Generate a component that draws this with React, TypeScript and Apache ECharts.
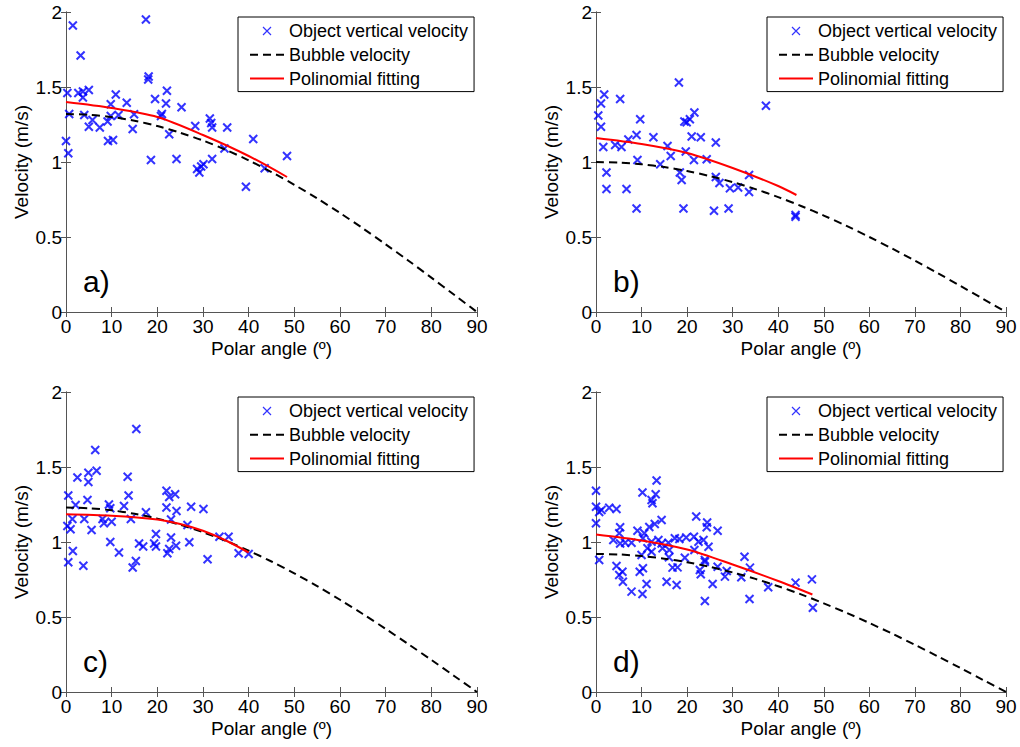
import React, { useEffect, useRef } from "react";
import * as echarts from "echarts";

const FONT = "'Liberation Sans', Arial, Helvetica, sans-serif";

const SERIES_NAMES = ["Object vertical velocity", "Bubble velocity", "Polinomial fitting"];
const PANEL_LABELS = ["a)", "b)", "c)", "d)"];
const X_NAME = "Polar angle (º)";
const Y_NAME = "Velocity (m/s)";

// Bubble velocity curve, read every 5 degrees
const bubbleAngles = [0, 5, 10, 15, 20, 25, 30, 35, 40, 45, 50, 55, 60, 65, 70, 75, 80, 85, 90];
const bubbleA = [1.32, 1.315, 1.3, 1.275, 1.24, 1.195, 1.143, 1.081, 1.011, 0.933, 0.848, 0.757, 0.66, 0.558, 0.451, 0.342, 0.229, 0.115, 0];
const bubbleB = [1.0, 0.996, 0.985, 0.966, 0.94, 0.906, 0.866, 0.819, 0.766, 0.707, 0.643, 0.574, 0.5, 0.423, 0.342, 0.259, 0.174, 0.087, 0];
const bubbleC = [1.23, 1.225, 1.211, 1.188, 1.156, 1.115, 1.065, 1.008, 0.942, 0.87, 0.791, 0.706, 0.615, 0.52, 0.421, 0.318, 0.214, 0.107, 0];
const bubbleD = [0.92, 0.917, 0.906, 0.889, 0.865, 0.834, 0.797, 0.754, 0.705, 0.651, 0.591, 0.528, 0.46, 0.389, 0.315, 0.238, 0.16, 0.08, 0];

// Polynomial fitting curves
const fitAnglesA = [0, 10, 20, 30, 40, 48.4];
const fitA = [1.4, 1.36, 1.3, 1.18, 1.04, 0.9];
const fitAnglesB = [0, 10, 20, 30, 40, 44];
const fitB = [1.16, 1.12, 1.06, 0.96, 0.84, 0.78];
const fitAnglesC = [0, 10, 20, 25, 30, 35, 40];
const fitC = [1.185, 1.175, 1.15, 1.12, 1.075, 1.01, 0.93];
const fitAnglesD = [0, 10, 20, 30, 40, 47.5];
const fitD = [1.05, 1.01, 0.95, 0.85, 0.74, 0.65];

// Object vertical velocity measurements [angle, velocity]
const objectA = [
  [1.5, 1.91], [17.5, 1.95], [3.2, 1.71], [18.1, 1.57], [18.0, 1.55], [0.3, 1.46], [2.7, 1.46], [3.7, 1.47],
  [5.0, 1.48], [3.7, 1.43], [10.9, 1.45], [22.1, 1.475], [19.5, 1.42], [21.9, 1.39], [13.3, 1.395], [9.8, 1.385],
  [25.3, 1.365], [0.7, 1.32], [4.0, 1.313], [9.8, 1.307], [11.5, 1.313], [14.9, 1.318], [21.0, 1.32], [20.8, 1.307],
  [5.8, 1.28], [9.1, 1.27], [5.0, 1.235], [7.4, 1.23], [14.6, 1.22], [28.3, 1.24], [31.5, 1.29], [31.8, 1.26],
  [32.0, 1.23], [35.3, 1.23], [22.6, 1.185], [41.0, 1.153], [34.7, 1.09], [0.0, 1.14], [0.5, 1.058], [9.2, 1.14],
  [10.3, 1.147], [18.6, 1.013], [24.2, 1.02], [32.0, 1.02], [28.7, 0.953], [29.6, 0.97], [30.1, 0.985], [29.2, 0.93],
  [43.5, 0.958], [48.4, 1.04], [39.4, 0.835],
];
const objectB = [
  [18.2, 1.53], [1.8, 1.45], [1.1, 1.39], [5.3, 1.42], [0.5, 1.31], [1.1, 1.235], [9.7, 1.285], [37.3, 1.375],
  [21.6, 1.33], [20.6, 1.285], [19.4, 1.27], [19.9, 1.265], [21.0, 1.17], [23.0, 1.165], [12.6, 1.165], [8.9, 1.18],
  [7.1, 1.15], [26.3, 1.13], [1.6, 1.1], [4.2, 1.113], [5.6, 1.1], [15.7, 1.107], [16.4, 1.04], [19.7, 1.07],
  [21.5, 1.013], [24.3, 1.018], [9.1, 1.013], [14.1, 0.985], [18.4, 0.93], [18.8, 0.88], [2.3, 0.93], [2.3, 0.82],
  [6.7, 0.82], [26.3, 0.9], [27.1, 0.86], [29.4, 0.825], [31.2, 0.83], [33.6, 0.913], [33.6, 0.8], [8.9, 0.69],
  [19.2, 0.69], [25.9, 0.675], [29.1, 0.69], [43.8, 0.647], [43.8, 0.635],
];
const objectC = [
  [15.4, 1.753], [6.4, 1.613], [6.7, 1.475], [4.9, 1.462], [4.9, 1.4], [2.5, 1.43], [13.5, 1.435], [0.5, 1.31],
  [4.7, 1.28], [13.7, 1.31], [22.0, 1.342], [22.6, 1.3], [23.9, 1.318], [22.0, 1.23], [27.4, 1.235], [30.1, 1.22],
  [24.2, 1.207], [2.1, 1.247], [9.4, 1.25], [9.7, 1.225], [12.7, 1.24], [17.5, 1.198], [1.4, 1.153], [4.0, 1.153],
  [8.0, 1.153], [8.3, 1.125], [10.0, 1.135], [14.2, 1.153], [23.0, 1.15], [0.3, 1.107], [1.0, 1.085], [5.6, 1.08],
  [19.7, 1.053], [23.0, 1.03], [26.6, 1.113], [33.6, 1.035], [35.6, 1.035], [9.7, 1.0], [16.0, 0.99], [16.9, 0.97],
  [19.7, 0.97], [19.3, 0.99], [27.0, 0.998], [24.1, 0.975], [22.6, 0.953], [22.2, 0.925], [1.5, 0.94], [11.6, 0.93],
  [0.5, 0.865], [3.8, 0.842], [15.3, 0.873], [14.6, 0.83], [31.0, 0.885], [37.8, 0.925], [40.0, 0.92],
];
const objectD = [
  [13.3, 1.41], [0.0, 1.342], [10.2, 1.33], [13.1, 1.318], [12.2, 1.28], [12.4, 1.258], [0.0, 1.235], [1.2, 1.213],
  [0.7, 1.2], [2.9, 1.228], [4.5, 1.22], [0.0, 1.125], [22.0, 1.17], [14.4, 1.147], [24.4, 1.13], [24.3, 1.098],
  [26.7, 1.075], [5.3, 1.098], [9.1, 1.075], [11.7, 1.1], [10.6, 1.058], [5.1, 1.058], [12.9, 1.12], [3.8, 1.013],
  [5.3, 0.99], [6.4, 0.995], [7.8, 0.995], [10.3, 1.025], [12.2, 1.002], [13.7, 1.013], [14.4, 0.99], [15.9, 0.995],
  [17.3, 1.025], [18.3, 1.02], [19.8, 1.03], [21.5, 1.035], [22.5, 1.002], [23.6, 1.013], [24.7, 0.968], [11.3, 0.958],
  [12.2, 0.935], [14.6, 0.958], [16.1, 0.947], [10.0, 0.913], [16.0, 0.898], [0.7, 0.88], [21.6, 0.947], [19.5, 0.895],
  [23.9, 0.868], [23.9, 0.88], [32.6, 0.902], [33.8, 0.829], [4.5, 0.84], [5.1, 0.78], [5.8, 0.802], [5.9, 0.735],
  [10.3, 0.825], [9.6, 0.802], [16.8, 0.829], [17.9, 0.831], [23.0, 0.785], [22.8, 0.813], [26.7, 0.835], [28.3, 0.769],
  [28.7, 0.807], [31.9, 0.765], [15.5, 0.735], [17.7, 0.713], [25.6, 0.72], [11.1, 0.72], [7.8, 0.669], [10.2, 0.653],
  [37.8, 0.698], [43.8, 0.729], [47.4, 0.751], [33.7, 0.62], [23.9, 0.607], [47.6, 0.562],
];

const panels = [
  { objects: objectA, bubble: bubbleA, fitX: fitAnglesA, fitY: fitA },
  { objects: objectB, bubble: bubbleB, fitX: fitAnglesB, fitY: fitB },
  { objects: objectC, bubble: bubbleC, fitX: fitAnglesC, fitY: fitC },
  { objects: objectD, bubble: bubbleD, fitX: fitAnglesD, fitY: fitD },
];

const GRIDS = [
  { left: 66, top: 12, width: 411, height: 300 },
  { left: 596, top: 12, width: 410, height: 300 },
  { left: 66, top: 392, width: 411, height: 300 },
  { left: 596, top: 392, width: 410, height: 300 },
];

const AXIS_COLOR = "#555";
const X_MARK = "path://M0,0L10,10M10,0L0,10";

export default function App() {
  const ref = useRef<HTMLDivElement>(null);
  useEffect(() => {
    if (!ref.current) return;
    const chart = echarts.init(ref.current, undefined, { renderer: "svg" });
    const xAxis: any[] = [];
    const yAxis: any[] = [];
    const series: any[] = [];
    const legend: any[] = [];
    const graphic: any[] = [];
    const axisLine = { show: true, lineStyle: { color: AXIS_COLOR, width: 1 } };
    const axisTick = { show: true, inside: true, length: 5, lineStyle: { color: AXIS_COLOR } };
    GRIDS.forEach((g, i) => {
      xAxis.push({
        type: "value", gridIndex: i, position: "bottom", min: 0, max: 90, interval: 10,
        axisLine, axisTick, splitLine: { show: false },
        axisLabel: { color: "#000", fontSize: 19, fontFamily: FONT, margin: 5 },
        name: X_NAME, nameLocation: "middle", nameGap: 27,
        nameTextStyle: { color: "#000", fontSize: 19, fontFamily: FONT },
      });
      xAxis.push({
        type: "value", gridIndex: i, position: "top", min: 0, max: 90, interval: 10,
        axisLine, axisTick, splitLine: { show: false }, axisLabel: { show: false },
      });
      yAxis.push({
        type: "value", gridIndex: i, position: "left", min: 0, max: 2, interval: 0.5,
        axisLine, axisTick, splitLine: { show: false },
        axisLabel: { color: "#000", fontSize: 19, fontFamily: FONT, margin: 4 },
        name: Y_NAME, nameLocation: "middle", nameGap: 35, nameRotate: 90,
        nameTextStyle: { color: "#000", fontSize: 19, fontFamily: FONT },
      });
      yAxis.push({
        type: "value", gridIndex: i, position: "right", min: 0, max: 2, interval: 0.5,
        axisLine, axisTick, splitLine: { show: false }, axisLabel: { show: false },
      });
      const p = panels[i];
      series.push({
        type: "scatter", name: SERIES_NAMES[0], xAxisIndex: 2 * i, yAxisIndex: 2 * i,
        symbol: X_MARK, symbolSize: 8, symbolKeepAspect: true,
        itemStyle: { color: "transparent", borderColor: "#0000ff", borderWidth: 2 },
        data: p.objects,
      });
      series.push({
        type: "line", name: SERIES_NAMES[1], xAxisIndex: 2 * i, yAxisIndex: 2 * i,
        showSymbol: false, symbol: "none", smooth: 0.3,
        lineStyle: { color: "#000", width: 2, type: [8, 5] },
        itemStyle: { color: "#000" },
        data: bubbleAngles.map((a, k) => [a, p.bubble[k]]),
      });
      series.push({
        type: "line", name: SERIES_NAMES[2], xAxisIndex: 2 * i, yAxisIndex: 2 * i,
        showSymbol: false, symbol: "none", smooth: 0.3,
        lineStyle: { color: "#ff0000", width: 2 },
        itemStyle: { color: "#ff0000" },
        data: p.fitX.map((a, k) => [a, p.fitY[k]]),
      });
      legend.push({
        left: g.left + g.width - 239, top: g.top + 5, orient: "vertical",
        selectedMode: false, backgroundColor: "#fff", borderColor: "#000", borderWidth: 1,
        padding: [4, 6, 3, 11], itemGap: 3.8, itemWidth: 34, itemHeight: 8,
        textStyle: { color: "#000", fontSize: 18, fontFamily: FONT, lineHeight: 20 },
        data: [
          { name: SERIES_NAMES[0], icon: X_MARK, itemStyle: { color: "transparent", borderColor: "#0000ff", borderWidth: 1.2 } },
          { name: SERIES_NAMES[1], itemStyle: { opacity: 0 } },
          { name: SERIES_NAMES[2], itemStyle: { opacity: 0 } },
        ],
      });
      graphic.push({
        type: "text", left: g.left + 17, top: g.top + 254,
        style: { text: PANEL_LABELS[i], fill: "#000", font: `30px ${FONT}` },
      });
    });
    chart.setOption({
      animation: false,
      backgroundColor: "#fff",
      grid: GRIDS.map((g) => ({ ...g, containLabel: false })),
      xAxis, yAxis, series, legend, graphic,
    });
    return () => chart.dispose();
  }, []);
  return <div ref={ref} style={{ position: "absolute", left: 0, top: 0, width: 1020, height: 747 }} />;
}
